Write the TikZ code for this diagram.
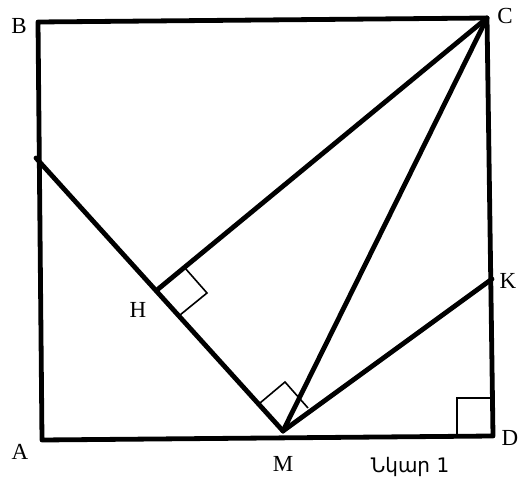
\documentclass[tikz,border=0pt]{standalone}
\usepackage{fontspec}
\setmainfont{Liberation Serif}
\newfontfamily\armfont[Script=Armenian]{DejaVu Sans}
\begin{document}
\begin{tikzpicture}[x=1pt,y=-1pt,
  thickline/.style={line width=4.8pt,line join=round,line cap=round},
  thinline/.style={line width=1.6pt,line join=miter},
  lbl/.style={font=\fontsize{23}{23}\selectfont,inner sep=0pt}]
\useasboundingbox (0,0) rectangle (522,486);
\coordinate (B) at (38,22);
\coordinate (C) at (487,18);
\coordinate (A) at (42,440);
\coordinate (D) at (493,436);
\coordinate (M) at (283,431);
\coordinate (H) at (157,290);
\coordinate (K) at (492,279);
\coordinate (P) at (36,158);
% square outline
\draw[thickline] (A) -- (B) -- (C) -- (D) -- cycle;
% other segments
\draw[thickline] (P) -- (M);
\draw[thickline] (H) -- (C);
\draw[thickline] (M) -- (C);
\draw[thickline] (M) -- (K);
% right angle marks
\draw[thinline] (H) -- (185,268) -- (207,293) -- (180,315);
\draw[thinline] (260,403) -- (285,382) -- (308,408);
\draw[thinline] (457,436) -- (457,398) -- (493,398);
% labels
\node[lbl] (lB) at (19,26) {B};
\node[lbl] (lC) at (505,16) {C};
\node[lbl] (lA) at (20,452) {A};
\node[lbl] (lD) at (510,438) {D};
\node[lbl] (lH) at (138,310) {H};
\node[lbl] (lM) at (283,464) {M};
\node[lbl] (lK) at (508,281) {K};
\node[inner sep=0pt,font=\armfont\fontsize{20}{20}\selectfont] (cap) at (410,467) {Նկար 1};
\end{tikzpicture}
\end{document}
